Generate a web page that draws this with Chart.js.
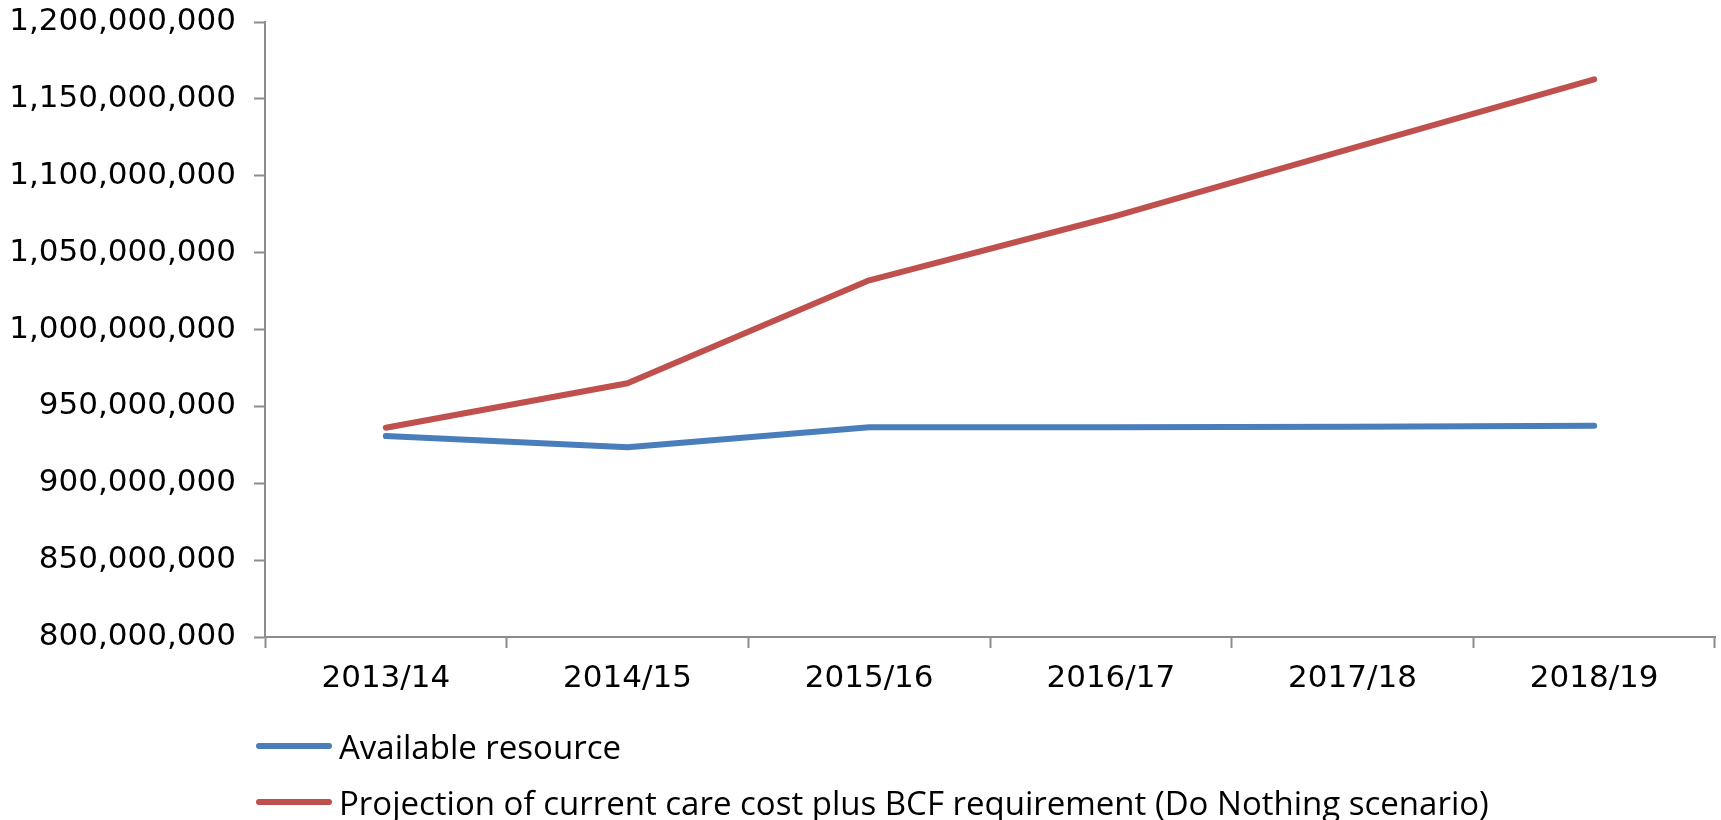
<!DOCTYPE html>
<html>
<head>
<meta charset="utf-8">
<script src="https://cdn.jsdelivr.net/npm/chart.js@4"></script>
<style>
  body { margin: 0; background: #fff; }
  #wrap { position: relative; width: 1721px; height: 820px; }
  #legend { position: absolute; left: 256px; top: 718px; font-family: "Open Sans", sans-serif; font-size: 33px; color: #000; }
  .row { display: flex; align-items: center; height: 56px; white-space: nowrap; }
  .swatch { width: 76px; height: 6px; border-radius: 3px; margin-right: 7px; }
</style>
</head>
<body>
<div id="wrap">
  <canvas id="lineChart" width="1721" height="820"></canvas>
  <div id="legend"></div>
</div>
<script>
var years = ['2013/14', '2014/15', '2015/16', '2016/17', '2017/18', '2018/19'];
var available = [930700000, 923400000, 936400000, 936500000, 936800000, 937400000];
var projection = [936100000, 965000000, 1032000000, 1073000000, 1118000000, 1162700000];
var seriesNames = ['Available resource', 'Projection of current care cost plus BCF requirement (Do Nothing scenario)'];
var seriesColors = ['#4A7EBB', '#C0504D'];
var yMin = 800000000, yMax = 1200000000, yStep = 50000000;

var axisGray = '#8C8C8C';

var chart = new Chart(document.getElementById('lineChart'), {
  type: 'line',
  data: {
    labels: years,
    datasets: [{
      label: seriesNames[0],
      data: available,
      borderColor: seriesColors[0],
      backgroundColor: seriesColors[0]
    }, {
      label: seriesNames[1],
      data: projection,
      borderColor: seriesColors[1],
      backgroundColor: seriesColors[1]
    }]
  },
  options: {
    responsive: false,
    animation: false,
    layout: { padding: { left: 0, right: 6, top: 22, bottom: 83 } },
    elements: {
      line: { borderWidth: 6, tension: 0, borderCapStyle: 'round', borderJoinStyle: 'round' },
      point: { radius: 0, hoverRadius: 0 }
    },
    plugins: {
      legend: { display: false },
      tooltip: { enabled: false }
    },
    scales: {
      x: {
        offset: true,
        grid: { offset: true, drawOnChartArea: false, tickLength: 11, tickWidth: 2, tickColor: axisGray },
        border: { color: axisGray, width: 2 },
        ticks: { color: '#000', padding: 12, maxRotation: 0, font: { family: 'DejaVu Sans', size: 31 } },
        afterFit: function(s) { s.height = 100; s.paddingLeft = 0; s.paddingRight = 0; }
      },
      y: {
        min: yMin,
        max: yMax,
        grid: { drawOnChartArea: false, tickLength: 11, tickWidth: 2, tickColor: axisGray },
        border: { color: axisGray, width: 2 },
        ticks: {
          stepSize: yStep,
          color: '#000',
          padding: 18,
          font: { family: 'DejaVu Sans', size: 31 },
          callback: function(v) { return v.toLocaleString('en-US'); }
        },
        // keep the top label from pushing the plot down
        afterFit: function(s) { s.width = 265; s.paddingTop = 0; s.paddingBottom = 0; }
      }
    }
  }
});

// legend as two stacked rows like the original
var legend = document.getElementById('legend');
chart.data.datasets.forEach(function(ds) {
  var row = document.createElement('div');
  row.className = 'row';
  var sw = document.createElement('span');
  sw.className = 'swatch';
  sw.style.background = ds.borderColor;
  var txt = document.createElement('span');
  txt.textContent = ds.label;
  row.appendChild(sw);
  row.appendChild(txt);
  legend.appendChild(row);
});
</script>
</body>
</html>
